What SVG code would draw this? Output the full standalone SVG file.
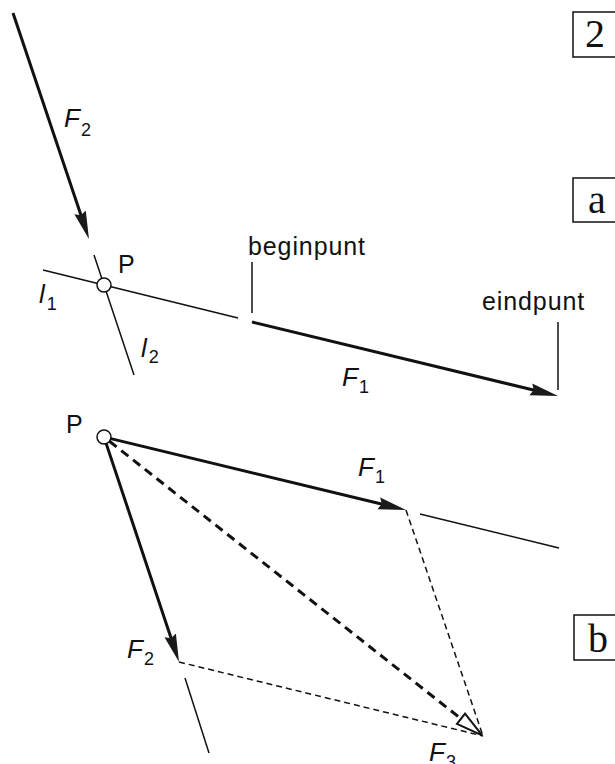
<svg xmlns="http://www.w3.org/2000/svg" width="615" height="764" viewBox="0 0 615 764">
<style>
.lbl{font-family:"Liberation Sans",Arial,sans-serif;font-size:25px;fill:#111}
.it{font-style:italic;font-size:26px}
.sub{font-size:18px;font-style:normal}
.wide{letter-spacing:0.9px}
.box{fill:none;stroke:#111;stroke-width:1.5}
.num{font-family:"Liberation Serif","Times New Roman",serif;font-size:40px;fill:#111}
.force{stroke:#111;stroke-width:3;fill:none}
.thin{stroke:#111;stroke-width:1.5;fill:none}
.dash{stroke:#111;stroke-width:3;fill:none;stroke-dasharray:9 6}
.tdash{stroke:#111;stroke-width:1.5;fill:none;stroke-dasharray:6 4}
.pt{fill:#fff;stroke:#111;stroke-width:1.5}
</style>
<defs>
<marker id="ah" markerUnits="userSpaceOnUse" viewBox="0 -7 30 14" markerWidth="30" markerHeight="14" refX="8" refY="0" orient="auto">
<path d="M0,-6 L28,0 L0,6 L3,0 z" fill="#1a1a1a"/>
</marker>
<marker id="oh" markerUnits="userSpaceOnUse" viewBox="-2 -8 32 16" markerWidth="32" markerHeight="16" refX="0" refY="0" orient="auto">
<path d="M0,-6.5 L27,0 L0,6.5 z" fill="#fff" stroke="#111" stroke-width="2" stroke-linejoin="miter"/>
</marker>
</defs>

<g id="tags">
<g id="tag-2"><rect class="box" x="573" y="12" width="60" height="45"/><text class="num" x="585" y="47">2</text></g>
<g id="tag-a"><rect class="box" x="573" y="178" width="60" height="44"/><text class="num" x="588" y="213">a</text></g>
<g id="tag-b"><rect class="box" x="574" y="615" width="60" height="45"/><text class="num" x="588" y="652">b</text></g>
</g>

<g id="connectors">
<!-- part a -->
<line class="force" x1="13" y1="13" x2="82.6" y2="220" marker-end="url(#ah)"/>
<line class="thin" x1="43" y1="270" x2="238" y2="318"/>
<line class="thin" x1="94" y1="255" x2="134" y2="375"/>
<line class="thin" x1="252" y1="262" x2="252" y2="313"/>
<line class="force" x1="252" y1="322" x2="538.6" y2="391.3" marker-end="url(#ah)"/>
<line class="thin" x1="558" y1="322" x2="558" y2="390"/>
<!-- part b -->
<line class="force" x1="110.8" y1="438.6" x2="386.6" y2="505.3" marker-end="url(#ah)"/>
<line class="thin" x1="420" y1="514" x2="559" y2="548"/>
<line class="force" x1="106.2" y1="443.6" x2="172.7" y2="643" marker-end="url(#ah)"/>
<line class="thin" x1="185" y1="678" x2="209" y2="753"/>
<line class="tdash" x1="406" y1="510" x2="483" y2="736"/>
<line class="tdash" x1="179" y1="662" x2="483" y2="736"/>
<line class="dash" x1="109.5" y1="441.3" x2="461" y2="718.7" marker-end="url(#oh)"/>
</g>

<g id="point-a"><circle class="pt" cx="104" cy="285" r="7"/></g>
<g id="point-b"><circle class="pt" cx="104" cy="437" r="7"/></g>

<g id="labels">
<text class="lbl it" x="64" y="127">F<tspan class="sub" dx="1" dy="9">2</tspan></text>
<text class="lbl" x="118" y="273">P</text>
<text class="lbl it" x="39" y="303">l<tspan class="sub" dx="2" dy="7">1</tspan></text>
<text class="lbl it" x="141" y="357">l<tspan class="sub" dx="2" dy="6">2</tspan></text>
<text class="lbl wide" x="248" y="255">beginpunt</text>
<text class="lbl wide" x="482" y="310">eindpunt</text>
<text class="lbl it" x="342" y="386">F<tspan class="sub" dx="1" dy="7">1</tspan></text>
<text class="lbl" x="66" y="433">P</text>
<text class="lbl it" x="358" y="476">F<tspan class="sub" dx="1" dy="7">1</tspan></text>
<text class="lbl it" x="127" y="658">F<tspan class="sub" dx="1" dy="7">2</tspan></text>
<text class="lbl it" x="429" y="761">F<tspan class="sub" dx="1" dy="7">3</tspan></text>
</g>
</svg>
